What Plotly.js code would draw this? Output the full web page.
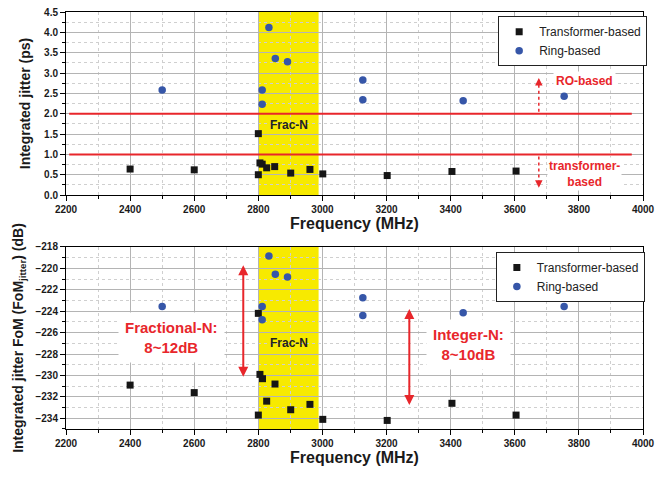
<!DOCTYPE html>
<html>
<head>
<meta charset="utf-8">
<script src="https://cdn.plot.ly/plotly-3.0.1.min.js"></script>
<style>html,body{margin:0;padding:0;background:#fff;}#chart{width:662px;height:478px;}</style>
</head>
<body>
<div id="chart"></div>
<script>
// ---- Data ----
// Top panel: integrated jitter (ps)
const trFreqTop   = [2400, 2600, 2800, 2800, 2805, 2812, 2826, 2851, 2901, 2961, 3001, 3202, 3404, 3604];
const trJitter    = [0.64, 0.62, 1.51, 0.50, 0.79, 0.76, 0.67, 0.70, 0.54, 0.63, 0.52, 0.48, 0.58, 0.59];
const ringFreqTop = [2500, 2812, 2812, 2833, 2853, 2891, 3126, 3126, 3439, 3754];
const ringJitter  = [2.58, 2.58, 2.23, 4.12, 3.36, 3.28, 2.83, 2.34, 2.32, 2.43];
// Bottom panel: jitter FoM (dB)
const trFreqBot   = [2400, 2600, 2800, 2805, 2813, 2852, 2826, 2961, 2901, 2800, 3001, 3202, 3404, 3604];
const trFoM       = [-230.9, -231.6, -224.2, -229.9, -230.3, -230.8, -232.4, -232.7, -233.2, -233.7, -234.1, -234.2, -232.6, -233.7];
const ringFreqBot = [2500, 2833, 2853, 2891, 2812, 2812, 3126, 3126, 3439, 3754];
const ringFoM     = [-223.55, -218.85, -220.55, -220.8, -223.55, -224.8, -222.75, -224.4, -224.15, -223.55];
// Regions and guide lines
const fracBand    = [2800, 2988];
const jitterLimits = [1.0, 2.0];
const seriesNames = ["Transformer-based", "Ring-based"];

const FONT = "Liberation Sans, Arial, sans-serif";
const RED = "#e8262b";
const sqMarker = {symbol: "square", size: 7, color: "#161616"};
const ciMarker = {symbol: "circle", size: 7.5, color: "#3656a8"};

const traces = [
  {x: trFreqTop, y: trJitter, type: "scatter", mode: "markers", name: seriesNames[0], marker: sqMarker, xaxis: "x", yaxis: "y", legend: "legend"},
  {x: ringFreqTop, y: ringJitter, type: "scatter", mode: "markers", name: seriesNames[1], marker: ciMarker, xaxis: "x", yaxis: "y", legend: "legend"},
  {x: trFreqBot, y: trFoM, type: "scatter", mode: "markers", name: seriesNames[0], marker: sqMarker, xaxis: "x2", yaxis: "y2", legend: "legend2"},
  {x: ringFreqBot, y: ringFoM, type: "scatter", mode: "markers", name: seriesNames[1], marker: ciMarker, xaxis: "x2", yaxis: "y2", legend: "legend2"}
];

const XR = [2200, 4000];
function xAxis(anchor) {
  return {
    anchor: anchor, range: XR, dtick: 200, tick0: 2200,
    showline: true, linecolor: "#000", linewidth: 1, mirror: true,
    ticks: "outside", ticklen: 5, tickcolor: "#000",
    showgrid: true, gridcolor: "#b4b4b4", gridwidth: 1, zeroline: false,
    minor: {dtick: 100, ticks: "outside", ticklen: 3, tickcolor: "#000", showgrid: true, gridcolor: "#cfcfcf", griddash: "dot"},
    tickfont: {family: FONT, size: 10, color: "#1a1a1a", weight: "bold"},
    title: {text: "Frequency (MHz)", font: {family: FONT, size: 16, color: "#1a1a1a", weight: "bold"}, standoff: 1}
  };
}
function yAxis(anchor, domain, range, tick0, dtick, minor, fmt, title, standoff) {
  return {
    anchor: anchor, domain: domain, range: range, dtick: dtick, tick0: tick0,
    showline: true, linecolor: "#000", linewidth: 1, mirror: true,
    ticks: "outside", ticklen: 5, tickcolor: "#000", tickformat: fmt,
    showgrid: true, gridcolor: "#b4b4b4", gridwidth: 1, zeroline: false,
    minor: {dtick: minor, ticks: "outside", ticklen: 3, tickcolor: "#000", showgrid: true, gridcolor: "#cfcfcf", griddash: "dot"},
    tickfont: {family: FONT, size: 10, color: "#1a1a1a", weight: "bold"},
    title: {text: title, font: {family: FONT, size: 14, color: "#1a1a1a", weight: "bold"}, standoff: standoff}
  };
}
// Mirror axes carrying inward ticks on the top and right edges
function xMirror(over, anchor) {
  return {overlaying: over, anchor: anchor, side: "top", range: XR, dtick: 200, tick0: 2200,
    ticks: "inside", ticklen: 5, tickcolor: "#000", showticklabels: false, showgrid: false, zeroline: false, showline: false,
    minor: {dtick: 100, ticks: "inside", ticklen: 3, tickcolor: "#000", showgrid: false}};
}
function yMirror(over, anchor, range, tick0, dtick, minor) {
  return {overlaying: over, anchor: anchor, side: "right", range: range, dtick: dtick, tick0: tick0,
    ticks: "inside", ticklen: 5, tickcolor: "#000", showticklabels: false, showgrid: false, zeroline: false, showline: false,
    minor: {dtick: minor, ticks: "inside", ticklen: 3, tickcolor: "#000", showgrid: false}};
}

const shapes = [
  {type: "rect", xref: "x", yref: "y domain", x0: fracBand[0], x1: fracBand[1], y0: 0, y1: 1, fillcolor: "#f7ea00", line: {width: 0}, layer: "below"},
  {type: "rect", xref: "x2", yref: "y2 domain", x0: fracBand[0], x1: fracBand[1], y0: 0, y1: 1, fillcolor: "#f7ea00", line: {width: 0}, layer: "below"},
  {type: "line", xref: "x", yref: "y", x0: 2210, x1: 3965, y0: jitterLimits[0], y1: jitterLimits[0], line: {color: RED, width: 2}},
  {type: "line", xref: "x", yref: "y", x0: 2210, x1: 3965, y0: jitterLimits[1], y1: jitterLimits[1], line: {color: RED, width: 2}},
  {type: "line", xref: "x", yref: "y", x0: 3675, x1: 3675, y0: 2.05, y1: 2.8, line: {color: RED, width: 1.5, dash: "dot"}},
  {type: "line", xref: "x", yref: "y", x0: 3675, x1: 3675, y0: 0.95, y1: 0.25, line: {color: RED, width: 1.5, dash: "dot"}}
];

const annotations = [
  {xref: "x", yref: "y", x: 2896, y: 1.72, text: "Frac-N", showarrow: false, font: {family: FONT, size: 12, color: "#222", weight: "bold"}},
  {xref: "x2", yref: "y2", x: 2896, y: -227.0, text: "Frac-N", showarrow: false, font: {family: FONT, size: 12, color: "#222", weight: "bold"}},
  {xref: "x", yref: "y", x: 3816, y: 2.81, text: "RO-based", showarrow: false, bgcolor: "#fff", borderpad: 2, font: {family: FONT, size: 12, color: RED, weight: "bold"}},
  {xref: "x", yref: "y", x: 3818, y: 0.52, text: "transformer-<br>based", showarrow: false, bgcolor: "#fff", borderpad: 1, font: {family: FONT, size: 12, color: RED, weight: "bold"}},
  {xref: "x", yref: "y", x: 3675, y: 2.88, ax: 0, ay: 8, text: "", showarrow: true, arrowhead: 2, arrowsize: 1, arrowwidth: 1.5, arrowcolor: RED},
  {xref: "x", yref: "y", x: 3675, y: 0.18, ax: 0, ay: -8, text: "", showarrow: true, arrowhead: 2, arrowsize: 1, arrowwidth: 1.5, arrowcolor: RED},
  {xref: "x2", yref: "y2", x: 2530, y: -226.5, text: "Fractional-N:<br>8~12dB", showarrow: false, bgcolor: "#fff", borderpad: 6, font: {family: FONT, size: 15, color: RED, weight: "bold"}},
  {xref: "x2", yref: "y2", x: 3455, y: -227.1, text: "Integer-N:<br>8~10dB", showarrow: false, bgcolor: "#fff", borderpad: 6, font: {family: FONT, size: 15, color: RED, weight: "bold"}},
  {xref: "x2", yref: "y2", x: 2753, y: -219.7, axref: "x2", ayref: "y2", ax: 2753, ay: -230.25, text: "", showarrow: true, arrowhead: 2, startarrowhead: 2, arrowside: "end+start", arrowsize: 1, arrowwidth: 2, arrowcolor: RED},
  {xref: "x2", yref: "y2", x: 3271, y: -223.8, axref: "x2", ayref: "y2", ax: 3271, ay: -232.9, text: "", showarrow: true, arrowhead: 2, startarrowhead: 2, arrowside: "end+start", arrowsize: 1, arrowwidth: 2, arrowcolor: RED}
];

const legendStyle = {
  bgcolor: "#fff", bordercolor: "#222", borderwidth: 1,
  font: {family: FONT, size: 12, color: "#222"},
  xanchor: "left", yanchor: "top", tracegroupgap: 0
};

const layout = {
  width: 662, height: 478,
  margin: {l: 66, r: 19, t: 12, b: 49},
  paper_bgcolor: "#fff", plot_bgcolor: "#fff",
  font: {family: FONT},
  showlegend: true,
  xaxis: xAxis("y"),
  yaxis: yAxis("x", [0.561, 1], [0, 4.5], 0, 0.5, 0.25, ".1f", "Integrated jitter (ps)", 10),
  xaxis2: xAxis("y2"),
  yaxis2: yAxis("x2", [0, 0.4365], [-235, -218], -234, 2, 1, "d", "Integrated jitter FoM (FoM<sub>jitter</sub>) (dB)", 8),
  xaxis3: xMirror("x", "y"),
  yaxis3: yMirror("y", "x", [0, 4.5], 0, 0.5, 0.25),
  xaxis4: xMirror("x2", "y2"),
  yaxis4: yMirror("y2", "x2", [-235, -218], -234, 2, 1),
  legend: Object.assign({x: 0.749, y: 0.99}, legendStyle),
  legend2: Object.assign({x: 0.745, y: 0.4245}, legendStyle),
  shapes: shapes,
  annotations: annotations
};

Plotly.newPlot("chart", traces, layout, {displayModeBar: false, staticPlot: true});
</script>
</body>
</html>
